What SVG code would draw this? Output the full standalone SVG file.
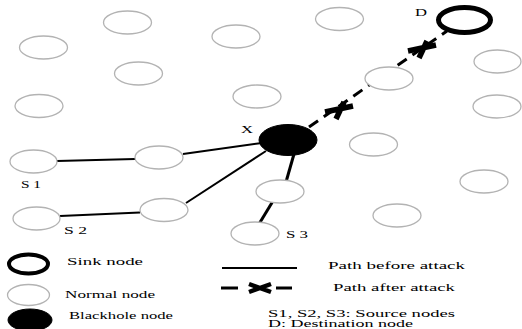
<svg xmlns="http://www.w3.org/2000/svg" width="522" height="329" viewBox="0 0 522 329">
<style>
.n{fill:#fff;stroke:#b3b3b3;stroke-width:1.3}
.sink{fill:#fff;stroke:#000;stroke-width:5}
.bh{fill:#000;stroke:#000}
.t{font-family:"Liberation Serif","Times New Roman",serif;font-size:11px;fill:#000}
.s{font-size:10px}
.ln{stroke:#000;stroke-width:2;fill:none}
.lnb{stroke:#000;stroke-width:3;fill:none}
.dash{stroke:#000;stroke-width:3;fill:none;stroke-dasharray:11 7}
.mk{stroke:#000;stroke-width:5.5;fill:none}
</style>
<rect width="522" height="329" fill="#fff"/>
<g id="connectors">
<line class="ln" x1="57" y1="161" x2="135" y2="159"/>
<line class="ln" x1="183" y1="154" x2="262" y2="143"/>
<line class="ln" x1="60" y1="216" x2="140" y2="212.5"/>
<line class="ln" x1="186" y1="203" x2="266" y2="151"/>
<line class="lnb" x1="294" y1="154" x2="286" y2="182"/>
<line class="lnb" x1="273" y1="201" x2="259" y2="224"/>
<line class="dash" x1="309" y1="127" x2="447" y2="31"/>
<path class="mk" d="M325,112 L353,106 M344,102 L336,119"/>
<path class="mk" d="M408,51 L436,45 M427,41 L419,58"/>
</g>
<g id="n1"><ellipse class="n" cx="43.5" cy="47.5" rx="24" ry="11.5"/></g>
<g id="n2"><ellipse class="n" cx="127.5" cy="22.5" rx="24" ry="11.5"/></g>
<g id="n3"><ellipse class="n" cx="236" cy="36.5" rx="24" ry="11.5"/></g>
<g id="n4"><ellipse class="n" cx="138.5" cy="73.5" rx="24" ry="11.5"/></g>
<g id="n5"><ellipse class="n" cx="39" cy="106" rx="24" ry="11.5"/></g>
<g id="n6"><ellipse class="n" cx="257" cy="96.5" rx="24" ry="11.5"/></g>
<g id="n7"><ellipse class="n" cx="339.5" cy="19" rx="24" ry="11.5"/></g>
<g id="n8"><ellipse class="n" cx="389" cy="78.5" rx="24" ry="11.5"/></g>
<g id="n9"><ellipse class="n" cx="497.5" cy="61.5" rx="23.5" ry="11.5"/></g>
<g id="n10"><ellipse class="n" cx="497" cy="106.5" rx="24" ry="11.5"/></g>
<g id="n11"><ellipse class="n" cx="373.5" cy="144.5" rx="24" ry="11.5"/></g>
<g id="n12"><ellipse class="n" cx="484" cy="181.5" rx="24" ry="11.5"/></g>
<g id="n13"><ellipse class="n" cx="397" cy="215.5" rx="24" ry="11.5"/></g>
<g id="s1"><ellipse class="n" cx="33.5" cy="161.5" rx="23.5" ry="11.5"/><text class="t" x="21" y="188" textLength="20" lengthAdjust="spacingAndGlyphs">S 1</text></g>
<g id="n15"><ellipse class="n" cx="159" cy="157.5" rx="24" ry="11.5"/></g>
<g id="s2"><ellipse class="n" cx="36.5" cy="218.5" rx="23.5" ry="11.5"/><text class="t" x="64" y="234" textLength="23" lengthAdjust="spacingAndGlyphs">S 2</text></g>
<g id="n17"><ellipse class="n" cx="164" cy="210" rx="24" ry="11.5"/></g>
<g id="n18"><ellipse class="n" cx="280" cy="191.5" rx="24" ry="11.5"/></g>
<g id="s3"><ellipse class="n" cx="255" cy="233.5" rx="24" ry="11.5"/><text class="t" x="286" y="238" textLength="22" lengthAdjust="spacingAndGlyphs">S 3</text></g>
<g id="x"><ellipse class="bh" cx="288" cy="140" rx="29" ry="15.5"/><text class="t" x="241" y="133" textLength="12" lengthAdjust="spacingAndGlyphs">X</text></g>
<g id="d"><ellipse class="sink" cx="464.5" cy="20" rx="26" ry="12.5"/><text class="t" x="415" y="16" textLength="12" lengthAdjust="spacingAndGlyphs">D</text></g>
<g id="legend">
<ellipse class="n" cx="28.5" cy="264" rx="19.5" ry="9.5" style="stroke:#000;stroke-width:4"/>
<ellipse class="n" cx="28.5" cy="295" rx="21" ry="10.5"/>
<ellipse class="bh" cx="30" cy="320" rx="22" ry="11"/>
<text class="t" x="67" y="265" textLength="76" lengthAdjust="spacingAndGlyphs">Sink node</text>
<text class="t" x="65" y="298" textLength="90" lengthAdjust="spacingAndGlyphs">Normal node</text>
<text class="t" x="69" y="319" textLength="104" lengthAdjust="spacingAndGlyphs">Blackhole node</text>
<line class="ln" x1="222" y1="268" x2="297" y2="268"/>
<line class="lnb" x1="221" y1="288" x2="238" y2="288"/>
<path class="mk" style="stroke-width:4.5" d="M249,284 L271,292 M249,292 L271,284"/>
<line class="lnb" x1="276" y1="288" x2="292" y2="288"/>
<text class="t" x="328" y="269" textLength="137" lengthAdjust="spacingAndGlyphs">Path before attack</text>
<text class="t" x="333" y="291" textLength="122" lengthAdjust="spacingAndGlyphs">Path after attack</text>
<text class="t s" x="268" y="316.5" textLength="187" lengthAdjust="spacingAndGlyphs">S1, S2, S3: Source nodes</text>
<text class="t s" x="268" y="327" textLength="145" lengthAdjust="spacingAndGlyphs">D: Destination node</text>
</g>
</svg>
